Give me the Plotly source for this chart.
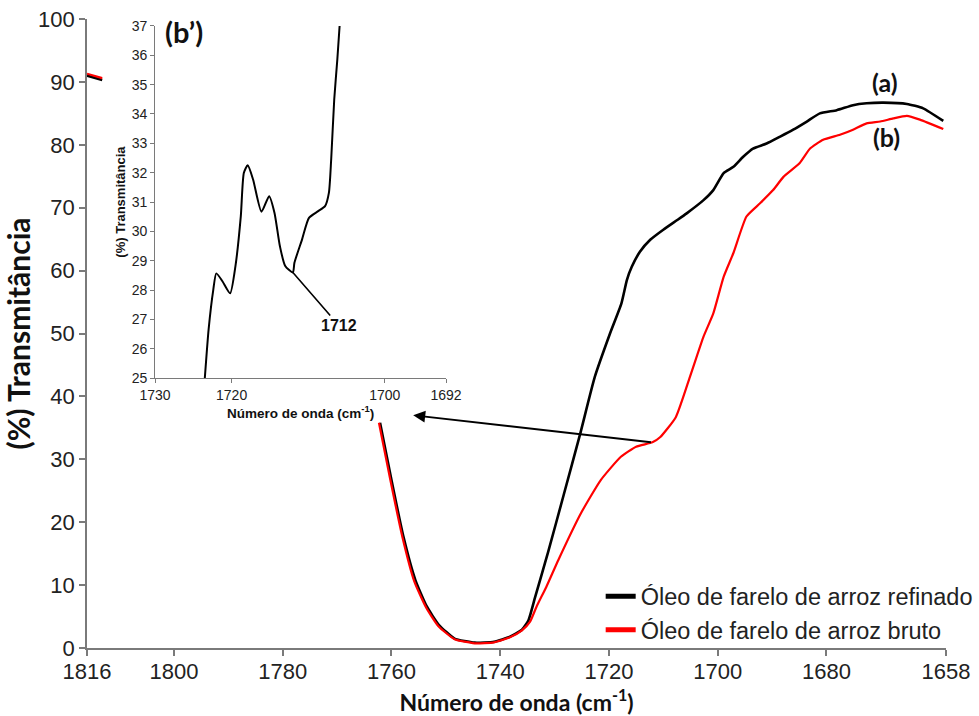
import plotly.graph_objects as go

# FTIR carbonyl region: rice bran oil, refined (a) vs crude (b)
# Gaps (None) where the spectra sit behind the inset panel.
wn_refinado = [1816.0, 1813.2, None,
               1762.1, 1760.0, 1757.8, 1755.6, 1753.5, 1751.3, 1748.4, 1744.7,
               1741.1, 1738.2, 1736.0, 1734.8, 1733.6, 1732.4, 1731.2, 1728.3,
               1725.3, 1722.6, 1719.8, 1717.7, 1716.7, 1715.8, 1714.3, 1712.4,
               1710.0, 1707.5, 1705.7, 1702.6, 1700.8, 1698.9, 1697.1, 1695.3,
               1693.5, 1691.0, 1688.5, 1686.1, 1683.6, 1681.2, 1678.1, 1675.1,
               1672.6, 1669.5, 1665.2, 1662.2, 1658.5]
t_refinado = [91.0, 90.3, None,
              35.8, 26.7, 17.7, 10.8, 6.6, 3.7, 1.5, 0.85,
              1.0, 1.8, 2.9, 4.4, 8.0, 11.6, 15.2, 24.4,
              34.0, 43.1, 50.0, 54.8, 58.5, 60.6, 63.0, 64.9,
              66.5, 68.0, 69.1, 71.2, 72.8, 75.5, 76.5, 78.1,
              79.4, 80.2, 81.3, 82.4, 83.7, 85.0, 85.5, 86.3,
              86.6, 86.7, 86.5, 85.8, 83.8]

wn_bruto = [1816.0, 1813.2, None,
            1762.3, 1760.2, 1758.0, 1755.8, 1753.6, 1751.4, 1748.4, 1744.7,
            1741.1, 1738.2, 1736.0, 1734.5, 1733.3, 1731.5, 1729.3, 1725.1,
            1721.5, 1717.8, 1715.0, 1712.0, 1710.6, 1707.7, 1705.1, 1702.6,
            1700.8, 1698.9, 1697.1, 1694.7, 1692.2, 1689.8, 1687.9, 1684.9,
            1683.0, 1680.6, 1677.5, 1675.1, 1672.6, 1670.1, 1667.7, 1665.2,
            1662.8, 1658.5]
t_bruto = [91.3, 90.6, None,
           35.8, 26.7, 17.7, 10.6, 6.4, 3.5, 1.4, 0.75,
           0.9, 1.7, 2.8, 4.2, 6.6, 9.75, 14.0, 21.5,
           26.7, 30.4, 32.0, 32.7, 33.5, 36.7, 43.1, 49.5,
           53.2, 59.0, 62.8, 68.6, 70.7, 72.8, 74.9, 77.1,
           79.4, 80.8, 81.6, 82.4, 83.4, 83.7, 84.2, 84.6,
           84.0, 82.5]

# Inset (b'): detail of the crude-oil band around 1712 cm-1
wn_inset = [1723.5, 1723.0, 1722.4, 1722.0, 1721.2, 1720.2, 1719.5, 1718.8,
            1718.4, 1717.9, 1717.2, 1716.1, 1715.1, 1714.4, 1713.7, 1713.0,
            1712.0, 1711.8, 1710.8, 1709.9, 1708.7, 1707.8, 1707.3, 1707.0,
            1706.6, 1706.2, 1705.9]
t_inset = [25.0, 26.67, 28.0, 28.57, 28.3, 27.89, 28.82, 30.52,
           32.0, 32.25, 31.77, 30.67, 31.2, 30.63, 29.5, 28.82,
           28.6, 28.93, 29.73, 30.46, 30.69, 30.86, 31.31, 32.45,
           34.5, 35.85, 37.0]

x_ticks = [1816, 1800, 1780, 1760, 1740, 1720, 1700, 1680, 1658]
y_ticks = list(range(0, 101, 10))
inset_x_ticks = [1730, 1720, 1700, 1692]
inset_y_ticks = list(range(25, 38))

peak_wn, peak_t = 1712, 28.6        # labelled minimum in the inset
arrow_from = (1712.0, 32.7)         # point on curve (b)
arrow_to = (1756.0, 37.0)           # towards the inset

BLACK = "#000000"
RED = "#ff0000"
AXIS = "#7a7a7a"
TICKFONT = "Liberation Sans, Arial, sans-serif"
TITLEFONT = "Lato, Open Sans, sans-serif"

fig = go.Figure()

fig.add_trace(go.Scatter(x=wn_refinado, y=t_refinado, mode="lines",
                         line=dict(color=BLACK, width=2.6, shape="spline", smoothing=0.5),
                         showlegend=False, xaxis="x", yaxis="y"))
fig.add_trace(go.Scatter(x=wn_bruto, y=t_bruto, mode="lines",
                         line=dict(color=RED, width=2.2, shape="spline", smoothing=0.5),
                         showlegend=False, xaxis="x", yaxis="y"))

# legend keys (thicker than the spectra)
fig.add_trace(go.Scatter(x=[None], y=[None], mode="lines", name="Óleo de farelo de arroz refinado",
                         line=dict(color=BLACK, width=5)))
fig.add_trace(go.Scatter(x=[None], y=[None], mode="lines", name="Óleo de farelo de arroz bruto",
                         line=dict(color=RED, width=5)))

fig.add_trace(go.Scatter(x=wn_inset, y=t_inset, mode="lines",
                         line=dict(color=BLACK, width=2, shape="spline", smoothing=0.6),
                         showlegend=False, xaxis="x2", yaxis="y2"))

fig.update_layout(
    width=979, height=716,
    margin=dict(l=87, r=33, t=19, b=68, autoexpand=False),
    paper_bgcolor="white", plot_bgcolor="white",
    xaxis=dict(range=[1816, 1658], tickvals=x_ticks, ticks="outside", ticklen=6,
               tickcolor=AXIS, tickwidth=1.5, showline=True, linecolor=AXIS, linewidth=1.8,
               showgrid=False, zeroline=False, automargin=False, ticklabelstandoff=-3,
               tickfont=dict(family=TICKFONT, size=22, color="#222222"),
               title=dict(text="Número de onda (cm<sup>-1</sup>)",
                          font=dict(family=TITLEFONT, size=23, color="#111111", weight="bold"))),
    yaxis=dict(range=[0, 100], tickvals=y_ticks, ticks="outside", ticklen=6,
               tickcolor=AXIS, tickwidth=1.5, showline=True, linecolor=AXIS, linewidth=1.8,
               showgrid=False, zeroline=False, automargin=False,
               tickfont=dict(family=TICKFONT, size=22, color="#222222"),
               title=dict(text="(%) Transmitância",
                          font=dict(family=TITLEFONT, size=30, color="#111111", weight="bold"))),
    xaxis2=dict(domain=[0.0792, 0.418], anchor="y2", range=[1730, 1692],
                tickvals=inset_x_ticks, ticks="outside", ticklen=4, tickcolor=AXIS,
                showline=True, linecolor=AXIS, linewidth=1, showgrid=False, zeroline=False,
                tickfont=dict(family=TICKFONT, size=14, color="#222222"),
                title=dict(text="Número de onda (cm<sup>-1</sup>)", standoff=1,
                           font=dict(family=TICKFONT, size=13.5, color="#111111", weight="bold"))),
    yaxis2=dict(domain=[0.429, 0.989], anchor="x2", range=[25, 37],
                tickvals=inset_y_ticks, ticks="outside", ticklen=4, tickcolor=AXIS,
                showline=True, linecolor=AXIS, linewidth=1, showgrid=False, zeroline=False,
                tickfont=dict(family=TICKFONT, size=14, color="#222222"),
                title=dict(text="(%) Transmitância", standoff=3,
                           font=dict(family=TICKFONT, size=13, color="#111111", weight="bold"))),
    legend=dict(x=0.598, y=0.117, xanchor="left", yanchor="top",
                bgcolor="rgba(0,0,0,0)", tracegroupgap=0,
                font=dict(family=TICKFONT, size=23.5, color="#222222")),
)

# curve labels
fig.add_annotation(x=1669.2, y=90.0, xref="x", yref="y", text="<b>(a)</b>", showarrow=False,
                   font=dict(family=TITLEFONT, size=25, color="#111111"))
fig.add_annotation(x=1668.9, y=81.2, xref="x", yref="y", text="<b>(b)</b>", showarrow=False,
                   font=dict(family=TITLEFONT, size=25, color="#111111"))

# arrow from curve (b) to the inset
fig.add_annotation(x=arrow_to[0], y=arrow_to[1], ax=arrow_from[0], ay=arrow_from[1],
                   xref="x", yref="y", axref="x", ayref="y", text="", showarrow=True,
                   arrowhead=2, arrowsize=1.2, arrowwidth=2, arrowcolor=BLACK)

# inset panel label and peak marker
fig.add_annotation(x=0.027, y=0.985, xref="x2 domain", yref="y2 domain", text="<b>(b’)</b>",
                   showarrow=False, xanchor="left", yanchor="middle",
                   font=dict(family=TITLEFONT, size=29, color="#111111"))
fig.add_annotation(x=peak_wn, y=peak_t, xref="x2", yref="y2", text="<b>1712</b>",
                   showarrow=True, arrowhead=0, arrowwidth=1.6, arrowcolor=BLACK,
                   ax=46, ay=53, font=dict(family=TICKFONT, size=16, color="#111111"))

fig.write_html("out.html")
